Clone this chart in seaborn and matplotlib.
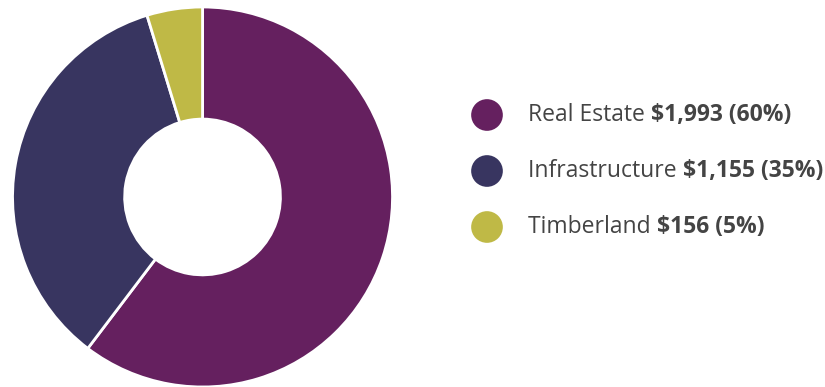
import matplotlib
matplotlib.use("Agg")
import matplotlib.pyplot as plt
import seaborn as sns

categories = ["Real Estate", "Infrastructure", "Timberland"]
values = [1993, 1155, 156]
value_labels = ["$1,993", "$1,155", "$156"]
pct_labels = ["60%", "35%", "5%"]
colors = ["#65205F", "#383560", "#BFB946"]

sns.set_theme(style="white")
plt.rcParams["font.family"] = ["Open Sans", "DejaVu Sans"]
palette = sns.color_palette(colors)

fig = plt.figure(figsize=(8.25, 3.87), dpi=100)

# Donut
ax = fig.add_axes([0.0152, 0.0, 0.4606, 0.982])
ax.pie(values, colors=palette, startangle=90, counterclock=False,
       radius=1.0,
       wedgeprops=dict(width=0.59, edgecolor="white", linewidth=2))
ax.set_aspect("equal")
ax.set_xlim(-1.0, 1.0)
ax.set_ylim(-1.0, 1.0)
ax.axis("off")

# Legend
lax = fig.add_axes([0.0, 0.0, 1.0, 1.0])
lax.set_xlim(0, 825)
lax.set_ylim(387, 0)
lax.axis("off")
ys = [115, 171, 227]
lax.scatter([487] * len(categories), ys, s=520, c=palette, linewidths=0)
text_color = "#444444"
for y, cat, val, pct in zip(ys, categories, value_labels, pct_labels):
    t = lax.text(528, y, cat + " ", fontsize=16.5, color=text_color,
                 va="center", ha="left")
    lax.annotate(f"{val} ({pct})", xy=(1, 0), xycoords=t, va="bottom",
                 ha="left", fontsize=16.5, fontweight="bold", color=text_color)

fig.savefig("out.png", dpi=100)
